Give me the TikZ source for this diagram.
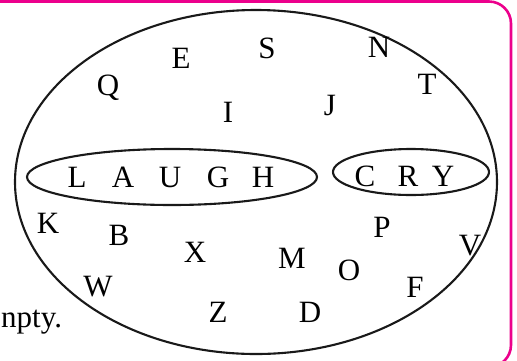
\documentclass[tikz,border=0pt]{standalone}
\usepackage{fontspec}
\setmainfont{Liberation Serif}
\usetikzlibrary{positioning}
\definecolor{framepink}{RGB}{236,0,140}
\tikzset{
  letter/.style={font=\fontsize{31}{32}\selectfont, inner sep=0pt, anchor=center},
  setline/.style={draw=black!90, line width=2.1pt},
  framebox/.style={draw=framepink, line width=2.6pt, rounded corners=22pt}
}
\begin{document}
\begin{tikzpicture}[x=1pt, y=-1pt]
  \useasboundingbox (0,0) rectangle (517,360);
  \clip (0,0) rectangle (517,360);
  \draw[framebox] (-30,1.5) rectangle (511,367);
  % universal set and the two subsets
  \draw[setline] (256,182) ellipse [x radius=241, y radius=172];
  \draw[setline] (172,177) ellipse [x radius=145, y radius=28];
  \draw[setline] (411,172) ellipse [x radius=78, y radius=23];
  % letters outside the subsets
  \node[letter] (lE) at (181,58) {E};
  \node[letter] (lQ) at (108,88) {Q};
  \node[letter] (lI) at (228,112) {I};
  \node[letter] (lS) at (267,48) {S};
  \node[letter] (lN) at (379,47) {N};
  \node[letter] (lT) at (427,84) {T};
  \node[letter] (lJ) at (330,105) {J};
  \node[letter] (lK) at (48,223) {K};
  \node[letter] (lB) at (119,235) {B};
  \node[letter] (lX) at (195,252) {X};
  \node[letter] (lW) at (98,287) {W};
  \node[letter] (lZ) at (218,312) {Z};
  \node[letter] (lP) at (382,227) {P};
  \node[letter] (lM) at (292,258) {M};
  \node[letter] (lO) at (349,270) {O};
  \node[letter] (lV) at (470,246) {V};
  \node[letter] (lF) at (415,287) {F};
  \node[letter] (lD) at (310,312) {D};
  % LAUGH
  \node[letter] (aL) at (77,177) {L};
  \node[letter] (aA) at (123,177) {A};
  \node[letter] (aU) at (170,177) {U};
  \node[letter] (aG) at (218,177) {G};
  \node[letter] (aH) at (263,177) {H};
  % CRY
  \node[letter] (cC) at (365,176) {C};
  \node[letter] (cR) at (408,176) {R};
  \node[letter] (cY) at (443,176) {Y};
  \node[letter, anchor=base west] (empty) at (1,327) {npty.};
\end{tikzpicture}
\end{document}
